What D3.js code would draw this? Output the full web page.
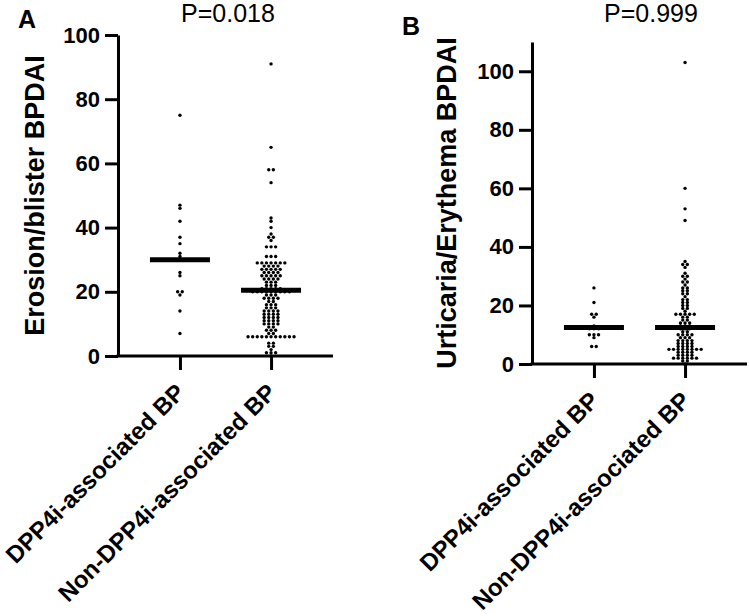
<!DOCTYPE html>
<html><head><meta charset="utf-8">
<script src="https://cdn.jsdelivr.net/npm/d3@7"></script>
<style>body{margin:0;background:#fff} svg{display:block}</style>
</head><body>
<svg id="chart" width="749" height="616"></svg>
<script>
const categories = ["DPP4i-associated BP", "Non-DPP4i-associated BP"];
const panelLetters = ["A", "B"];
const pValues = ["P=0.018", "P=0.999"];
const yTitles = ["Erosion/blister BPDAI", "Urticaria/Erythema BPDAI"];
const yTicksA = [0, 20, 40, 60, 80, 100];
const yTicksB = [0, 20, 40, 60, 80, 100];
const yMaxA = 100;
const yMaxB = 110;

const erosionDPP = [75, 47, 46, 42, 37, 35, 32, 31, 30, 26, 25, 20, 20, 19, 14, 7];
const erosionNon = [91, 65, 58, 58, 54, 43, 42, 40, 38, 37, 37, 36, 34, 34, 34, 31, 31, 31,
  29, 29, 29, 29, 29, 29, 29, 28, 28, 28, 28, 27, 27, 27, 27, 27, 26, 26, 26, 26,
  25, 25, 25, 25, 25, 24, 24, 24, 24, 23, 23, 23, 22, 22, 22, 21, 21, 21, 21, 21,
  20, 20, 20, 20, 20, 20, 20, 20, 20, 19, 19, 19, 18, 18, 18, 18, 17, 17, 16, 16, 16,
  15, 15, 15, 14, 14, 14, 14, 13, 13, 13, 13, 12, 12, 12, 12, 11, 11, 11, 11,
  10, 10, 10, 10, 9, 9, 8, 8, 8, 7, 7, 6, 6, 6, 6, 6, 6, 6, 6, 6, 6, 6,
  4, 4, 3, 3, 2, 1, 1, 1, 0];
const erosionMedians = [30, 20.5];

const urticariaDPP = [26, 21, 17, 17, 16, 13, 12, 12, 12, 10, 10, 10, 9, 6, 6];
const urticariaNon = [103, 60, 53, 49, 35, 34, 34, 33, 31, 30, 30, 29, 28, 28, 27, 26, 26,
  25, 25, 24, 24, 23, 22, 22, 21, 21, 20, 20, 19, 19, 18, 17, 17, 17, 17, 17,
  16, 16, 15, 15, 14, 14, 14, 13, 13, 13, 12, 12, 12, 11, 11, 10, 10, 10, 10,
  9, 9, 9, 8, 8, 8, 8, 7, 7, 7, 7, 6, 6, 6, 6, 5, 5, 5, 5, 5, 5, 5, 5,
  4, 4, 4, 4, 3, 3, 3, 3, 2, 2, 2, 2, 2, 2, 1, 1, 0];
const urticariaMedians = [12.5, 12.5];

const FONT = "'Liberation Sans', Arial, Helvetica, sans-serif";
const svg = d3.select("#chart");

function panel(cfg) {
  const g = svg.append("g");
  const x = d3.scalePoint().domain(categories).range([cfg.x0, cfg.x1]).padding(0.68);
  const y = d3.scaleLinear().domain([0, cfg.yMax]).range([cfg.y0, cfg.y1]);

  // y axis
  const ya = g.append("g").attr("transform", `translate(${cfg.x0},0)`)
    .call(d3.axisLeft(y).tickValues(cfg.ticks).tickSize(13).tickSizeOuter(0).tickPadding(5));
  ya.select(".domain").attr("stroke", "#000").attr("stroke-width", 3);
  ya.selectAll(".tick line").attr("stroke", "#000").attr("stroke-width", 3);
  ya.selectAll(".tick text").attr("font-family", FONT).attr("font-size", 22)
    .attr("font-weight", "bold").attr("fill", "#000");

  // x axis
  const xa = g.append("g").attr("transform", `translate(0,${cfg.y0})`)
    .call(d3.axisBottom(x).tickSize(14).tickSizeOuter(0));
  xa.select(".domain").attr("stroke", "#000").attr("stroke-width", 3)
    .attr("d", `M${cfg.x0 - 1.5},0H${cfg.x1}`);
  xa.selectAll(".tick line").attr("stroke", "#000").attr("stroke-width", 3);
  xa.selectAll(".tick text")
    .attr("x", 0).attr("y", 0).attr("dy", 0)
    .attr("text-anchor", "end")
    .attr("transform", "translate(6,38) rotate(-45)")
    .attr("font-family", FONT).attr("font-size", 24).attr("font-weight", "bold").attr("fill", "#000");

  // dots (rows of equal values centred on the category)
  const d = 4.6;
  cfg.series.forEach((vals, ci) => {
    const groups = d3.groups(vals, v => v);
    const pts = [];
    groups.forEach(([v, arr]) => {
      arr.forEach((_, i) => pts.push({ v, off: (i - (arr.length - 1) / 2) * d }));
    });
    g.append("g").selectAll("circle").data(pts).join("circle")
      .attr("cx", p => x(categories[ci]) + p.off)
      .attr("cy", p => y(p.v))
      .attr("r", 1.7)
      .attr("fill", "#000");
    // median line
    g.append("line")
      .attr("x1", x(categories[ci]) - 30).attr("x2", x(categories[ci]) + 30)
      .attr("y1", y(cfg.medians[ci])).attr("y2", y(cfg.medians[ci]))
      .attr("stroke", "#000").attr("stroke-width", 5);
  });

  // y title
  g.append("text")
    .attr("transform", `translate(${cfg.titleX},${(cfg.y0 + cfg.y1) / 2}) rotate(-90)`)
    .attr("text-anchor", "middle")
    .attr("font-family", FONT).attr("font-size", 27).attr("font-weight", "bold")
    .text(cfg.title);
  // P value
  g.append("text").attr("x", cfg.pX).attr("y", 22).attr("text-anchor", "middle")
    .attr("font-family", FONT).attr("font-size", 25).text(cfg.p);
  // panel letter
  g.append("text").attr("x", cfg.letterX).attr("y", cfg.letterY)
    .attr("font-family", FONT).attr("font-size", 25).attr("font-weight", "bold").text(cfg.letter);
}

panel({ x0: 118, x1: 333, y0: 356, y1: 35, yMax: yMaxA, ticks: yTicksA,
  series: [erosionDPP, erosionNon], medians: erosionMedians,
  title: yTitles[0], titleX: 44, p: pValues[0], pX: 228,
  letter: panelLetters[0], letterX: 18, letterY: 28 });

panel({ x0: 532, x1: 747, y0: 364, y1: 42, yMax: yMaxB, ticks: yTicksB,
  series: [urticariaDPP, urticariaNon], medians: urticariaMedians,
  title: yTitles[1], titleX: 456, p: pValues[1], pX: 651,
  letter: panelLetters[1], letterX: 402, letterY: 35 });
</script>
</body></html>
